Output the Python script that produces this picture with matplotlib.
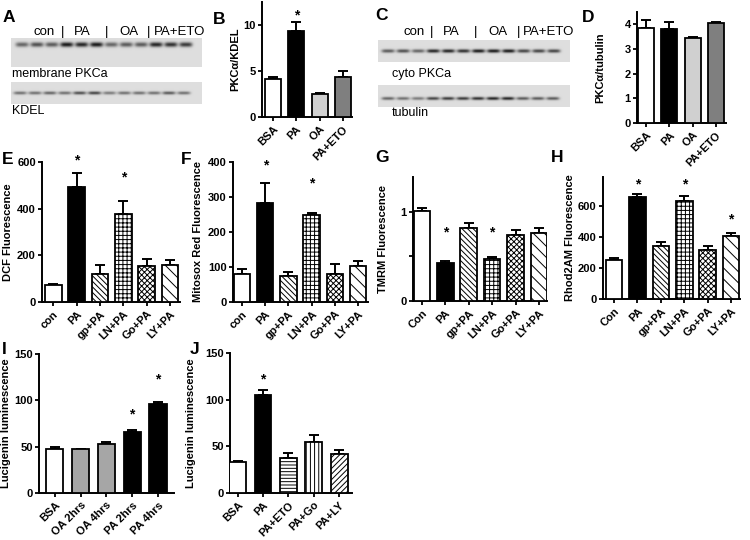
import numpy as np
import matplotlib
matplotlib.use('Agg')
import matplotlib.pyplot as plt

plt.rcParams['font.family'] = ['Liberation Sans', 'DejaVu Sans']
plt.rcParams['hatch.linewidth'] = 0.7

# ---------------- data ----------------
blot_groups = ['con', 'PA', 'OA', 'PA+ETO']
a_membrane = [0.55, 0.65, 0.6, 0.9, 0.85, 0.9, 0.55, 0.6, 0.6, 0.85, 0.8, 0.75]
a_kdel = [0.5, 0.5, 0.55, 0.5, 0.65, 0.7, 0.45, 0.5, 0.5, 0.5, 0.6, 0.5]
c_cyto = [0.6, 0.65, 0.55, 0.85, 0.85, 0.8, 0.9, 0.9, 0.9, 0.7, 0.7, 0.7]
c_tubulin = [0.55, 0.5, 0.45, 0.7, 0.75, 0.75, 0.8, 0.85, 0.85, 0.6, 0.6, 0.6]

b_cats = ['BSA', 'PA', 'OA', 'PA+ETO']
b_vals = [4.1, 9.3, 2.5, 4.3]
b_errs = [0.3, 1.0, 0.15, 0.75]
b_star_idx, b_star_y = [1], [11.0]

d_cats = ['BSA', 'PA', 'OA', 'PA+ETO']
d_vals = [3.85, 3.8, 3.45, 4.05]
d_errs = [0.33, 0.3, 0.05, 0.05]

e_cats = ['con', 'PA', 'gp+PA', 'LN+PA', 'Go+PA', 'LY+PA']
e_vals = [75, 493, 122, 378, 155, 160]
e_errs = [3, 62, 38, 55, 30, 22]
e_star_idx, e_star_y = [1, 3], [605, 535]

f_cats = ['con', 'PA', 'gp+PA', 'LN+PA', 'Go+PA', 'LY+PA']
f_vals = [80, 283, 75, 250, 80, 102]
f_errs = [15, 58, 12, 3, 28, 14]
f_star_idx, f_star_y = [1, 3], [390, 338]

g_cats = ['Con', 'PA', 'gp+PA', 'LN+PA', 'Go+PA', 'LY+PA']
g_vals = [1.01, 0.43, 0.82, 0.47, 0.74, 0.76]
g_errs = [0.03, 0.02, 0.05, 0.02, 0.06, 0.06]
g_star_idx, g_star_y = [1, 3], [0.77, 0.77]

h_cats = ['Con', 'PA', 'gp+PA', 'LN+PA', 'Go+PA', 'LY+PA']
h_vals = [250, 660, 340, 635, 318, 405]
h_errs = [12, 20, 30, 28, 22, 20]
h_star_idx, h_star_y = [1, 3, 5], [740, 740, 515]

i_cats = ['BSA', 'OA 2hrs', 'OA 4hrs', 'PA 2hrs', 'PA 4hrs']
i_vals = [48, 47, 53, 66, 96]
i_errs = [1.5, 1, 2, 2, 2.5]
i_star_idx, i_star_y = [3, 4], [85, 122]

j_cats = ['BSA', 'PA', 'PA+ETO', 'PA+Go', 'PA+LY']
j_vals = [33, 105, 38, 55, 42]
j_errs = [1, 5, 5, 7, 4]
j_star_idx, j_star_y = [1], [122]

# ---------------- figure ----------------
W, H = 750, 540
fig = plt.figure(figsize=(7.5, 5.4), dpi=100)

over = fig.add_axes([0, 0, 1, 1], zorder=0)
over.set_xlim(0, W)
over.set_ylim(H, 0)
over.axis('off')


def blot(x0, y0, x1, y1, band_y, first, last, intens, sx=6.5, sy=2.0):
    res = 3
    nx, ny = int((x1 - x0) * res), int((y1 - y0) * res)
    xs = np.linspace(x0, x1, nx)
    ys = np.linspace(y0, y1, ny)
    X, Y = np.meshgrid(xs, ys)
    img = np.full_like(X, 0.87)
    centers = np.linspace(first, last, len(intens))
    for cx, v in zip(centers, intens):
        img -= 0.85 * v * np.exp(-((X - cx) / sx) ** 4 - ((Y - band_y) / sy) ** 2)
    img = np.clip(img, 0, 1)
    over.imshow(img, cmap='gray', vmin=0, vmax=1, extent=[x0, x1, y1, y0],
                aspect='auto', interpolation='bilinear')


def header(xs_text, y):
    for (x, s) in xs_text:
        over.text(x, y, s, fontsize=9.5, ha='left', va='center')


# panel A blots
blot(11, 38, 202, 67, 44.5, 22, 186, a_membrane, sy=2.4)
blot(11, 82, 202, 104, 93, 20, 184, a_kdel, sy=1.6)
header([(33, blot_groups[0]), (61, '|'), (74, blot_groups[1]), (105, '|'),
        (119, blot_groups[2]), (147, '|'), (154, blot_groups[3])], 32)
over.text(12, 74, 'membrane PKCa', fontsize=9, ha='left', va='center')
over.text(12, 111, 'KDEL', fontsize=9, ha='left', va='center')

# panel C blots
blot(378, 40, 570, 62, 51, 388, 554, c_cyto, sy=1.8)
blot(378, 85, 570, 107, 98.5, 388, 553, c_tubulin, sy=1.6)
header([(403, blot_groups[0]), (430, '|'), (443, blot_groups[1]), (474, '|'),
        (488, blot_groups[2]), (517, '|'), (523, blot_groups[3])], 32)
over.text(392, 74, 'cyto PKCa', fontsize=9, ha='left', va='center')
over.text(392, 113, 'tubulin', fontsize=9, ha='left', va='center')

# panel letters
for (x, y, s) in [(3, 18, 'A'), (213, 19, 'B'), (375, 16, 'C'), (582, 18, 'D'),
                  (2, 160, 'E'), (181, 159, 'F'), (375, 158, 'G'), (551, 158, 'H'),
                  (2, 349, 'I'), (190, 349, 'J')]:
    over.text(x, y, s, fontsize=12.5, fontweight='bold', ha='left', va='center')


def bar_panel(box, cats, vals, errs, colors, hatches, ylim, yticks, yticklabels,
              xlim, width, ylabel, label_px, stars=None):
    l, t, r, b = box
    ax = fig.add_axes([l / W, 1 - b / H, (r - l) / W, (b - t) / H], zorder=2)
    ax.patch.set_alpha(0)
    x = np.arange(len(vals))
    bars = ax.bar(x, vals, width=width, color=colors, edgecolor='black',
                  linewidth=1.3, zorder=3)
    for p, h in zip(bars, hatches):
        if h:
            p.set_hatch(h)
    ax.errorbar(x, vals, yerr=[np.zeros(len(errs)), errs], fmt='none',
                ecolor='black', elinewidth=1.4, capsize=3.5, capthick=1.4,
                zorder=2)
    ax.set_xlim(*xlim)
    ax.set_ylim(*ylim)
    ax.set_yticks(yticks)
    ax.set_yticklabels(yticklabels, fontsize=8, fontweight='bold')
    ax.set_xticks(x)
    ax.set_xticklabels(cats, rotation=45, ha='right', rotation_mode='anchor',
                       fontsize=8, fontweight='bold')
    ax.tick_params(axis='both', direction='out', length=3, width=1.3, pad=2)
    ax.tick_params(axis='y', pad=1.5)
    for s in ['top', 'right']:
        ax.spines[s].set_visible(False)
    for s in ['left', 'bottom']:
        ax.spines[s].set_linewidth(1.4)
    ax.set_ylabel(ylabel, fontsize=8, fontweight='bold')
    ax.yaxis.set_label_coords((label_px - l) / (r - l), 0.5)
    if stars:
        for i, y in zip(*stars):
            ax.text(i, y, '*', ha='center', va='center', fontsize=10,
                    fontweight='bold')
    return ax


bwv = ['white', 'black', '#d0d0d0', '#7f7f7f']
bar_panel((262, 2, 352, 117), b_cats, b_vals, b_errs, bwv, [None] * 4,
          (0, 12.5), [0, 5, 10], ['0', '5', '10'], (-0.47, 3.39), 0.69,
          'PKC\u03b1/KDEL', 240, (b_star_idx, b_star_y))
bar_panel((637, 12, 726, 123), d_cats, d_vals, d_errs, bwv, [None] * 4,
          (0, 4.5), [0, 1, 2, 3, 4], ['0', '1', '2', '3', '4'], (-0.39, 3.43), 0.69,
          'PKC\u03b1/tubulin', 605)

six_colors = ['white', 'black', 'white', 'white', 'white', 'white']
six_hatch = [None, None, '\\\\\\\\\\\\', '++++', 'xxxxxx', '\\\\\\']
bar_panel((42, 162, 180, 302), e_cats, e_vals, e_errs, six_colors, six_hatch,
          (0, 600), [0, 200, 400, 600], ['0', '200', '400', '600'], (-0.49, 5.43), 0.71,
          'DCF Fluorescence', 13, (e_star_idx, e_star_y))
bar_panel((233, 162, 368, 302), f_cats, f_vals, f_errs, six_colors, six_hatch,
          (0, 400), [0, 100, 200, 300, 400], ['0', '100', '200', '300', '400'],
          (-0.39, 5.43), 0.71, 'Mitosox Red Fluorescence', 203, (f_star_idx, f_star_y))
bar_panel((413, 177, 547, 301), g_cats, g_vals, g_errs, six_colors, six_hatch,
          (0, 1.39), [0, 0.5, 1], ['0', '', '1'], (-0.38, 5.34), 0.71,
          'TMRM Fluorescence', 388, (g_star_idx, g_star_y))
bar_panel((603, 177, 740, 299), h_cats, h_vals, h_errs, six_colors, six_hatch,
          (0, 787), [0, 200, 400, 600], ['0', '200', '400', '600'], (-0.47, 5.38), 0.71,
          'Rhod2AM Fluorescence', 575, (h_star_idx, h_star_y))

bar_panel((39, 354, 174, 493), i_cats, i_vals, i_errs,
          ['white', '#a6a6a6', '#a6a6a6', 'black', 'black'], [None] * 5,
          (0, 150), [0, 50, 100, 150], ['0', '50', '100', '150'], (-0.61, 4.62), 0.67,
          'Lucigenin luminescence', 11, (i_star_idx, i_star_y))
bar_panel((230, 353, 352, 493), j_cats, j_vals, j_errs,
          ['white', 'black', 'white', 'white', 'white'],
          [None, None, '-----', '||||', '//////'],
          (0, 150), [0, 50, 100, 150], ['0', '50', '100', '150'], (-0.3, 4.5), 0.66,
          'Lucigenin luminescence', 196, (j_star_idx, j_star_y))

fig.savefig('out.png', dpi=100)
